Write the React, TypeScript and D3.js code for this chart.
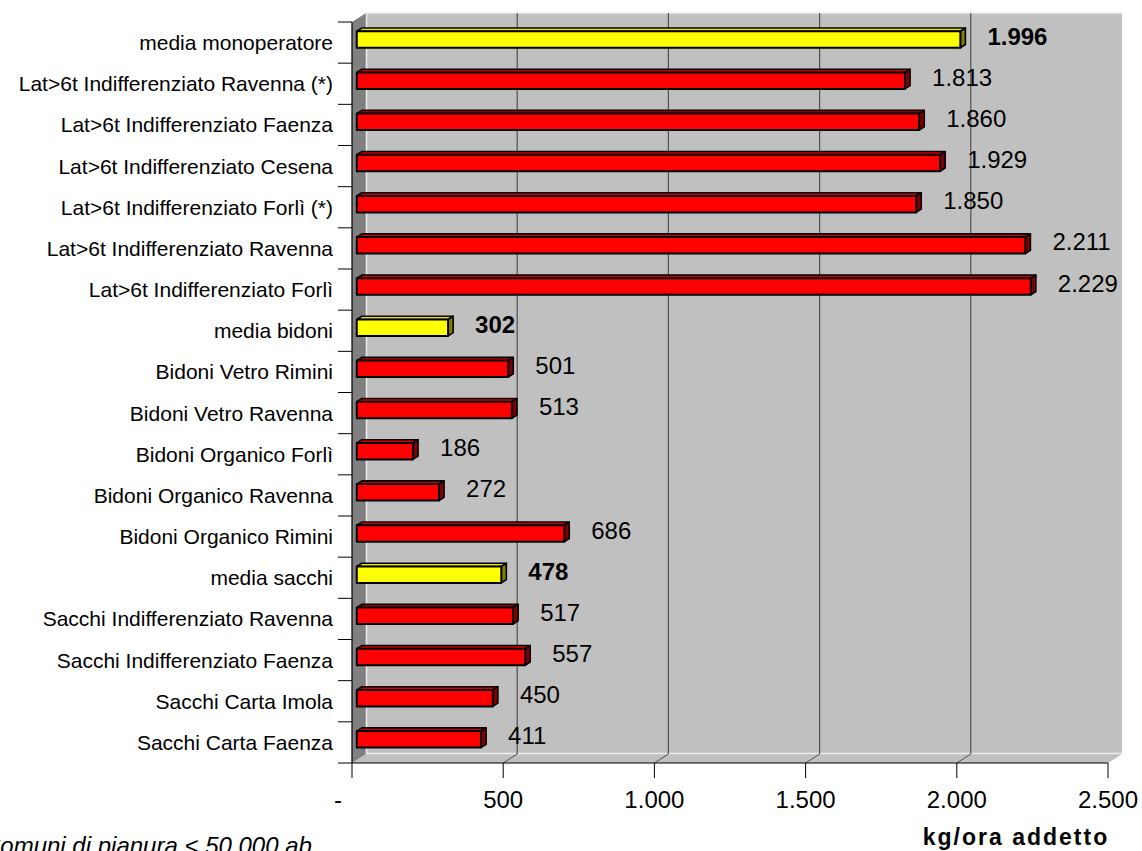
import React from "react";
import * as d3 from "d3";

const categories = [
  "media monoperatore",
  "Lat>6t Indifferenziato Ravenna (*)",
  "Lat>6t Indifferenziato Faenza",
  "Lat>6t Indifferenziato Cesena",
  "Lat>6t Indifferenziato Forlì (*)",
  "Lat>6t Indifferenziato Ravenna",
  "Lat>6t Indifferenziato Forlì",
  "media bidoni",
  "Bidoni Vetro Rimini",
  "Bidoni Vetro Ravenna",
  "Bidoni Organico Forlì",
  "Bidoni Organico Ravenna",
  "Bidoni Organico Rimini",
  "media sacchi",
  "Sacchi Indifferenziato Ravenna",
  "Sacchi Indifferenziato Faenza",
  "Sacchi Carta Imola",
  "Sacchi Carta Faenza",
];
const values = [1996, 1813, 1860, 1929, 1850, 2211, 2229, 302, 501, 513, 186, 272, 686, 478, 517, 557, 450, 411];
const isAverage = [true, false, false, false, false, false, false, true, false, false, false, false, false, true, false, false, false, false];
const xTicks = [0, 500, 1000, 1500, 2000, 2500];
const axisTitle = "kg/ora addetto";
const footnote = "Comuni di pianura < 50.000 ab.";

const W = 1142;
const H = 851;
const FRONT_LEFT = 352;
const FRONT_RIGHT = 1108;
const FRONT_TOP = 22;
const FRONT_BOTTOM = 763;
const DX = 14;
const DY = -9;
const FONT = "'Liberation Sans', Arial, Helvetica, sans-serif";

const itLocale = d3.formatLocale({ decimal: ",", thousands: ".", grouping: [3], currency: ["€", ""] });
const fmt = itLocale.format(",d");

export default function App() {
  const x = d3.scaleLinear().domain([0, 2500]).range([FRONT_LEFT, FRONT_RIGHT]);
  const y = d3.scaleBand().domain(categories).range([FRONT_TOP, FRONT_BOTTOM]).paddingInner(0).paddingOuter(0);
  const bw = y.bandwidth();

  // depth of bars (fraction of full depth)
  const d0 = 0.34;
  const d1 = 0.7;
  const barH = bw / 2.5;

  const p = (px: number, py: number, d: number) => [px + DX * d, py + DY * d];
  const pts = (arr: number[][]) => arr.map((a) => a.join(",")).join(" ");

  const backLeft = FRONT_LEFT + DX;
  const backRight = FRONT_RIGHT + DX;
  const backTop = FRONT_TOP + DY;
  const backBottom = FRONT_BOTTOM + DY;

  return (
    <svg
      width={W}
      height={H}
      style={{ position: "absolute", left: 0, top: 0, background: "#fff" }}
      fontFamily={FONT}
    >
      {/* back wall */}
      <rect x={backLeft} y={backTop} width={backRight - backLeft} height={backBottom - backTop} fill="#C0C0C0" />
      {/* floor */}
      <polygon
        points={pts([
          [FRONT_LEFT, FRONT_BOTTOM],
          [backLeft, backBottom],
          [backRight, backBottom],
          [FRONT_RIGHT, FRONT_BOTTOM],
        ])}
        fill="#C0C0C0"
      />
      {/* side wall */}
      <polygon
        points={pts([
          [FRONT_LEFT, FRONT_TOP],
          [backLeft, backTop],
          [backLeft, backBottom],
          [FRONT_LEFT, FRONT_BOTTOM],
        ])}
        fill="#808080"
      />
      {/* light wall edges */}
      <polyline
        points={pts([
          [backRight, backTop],
          [backLeft + 0.5, backTop],
          [backLeft + 0.5, backBottom - 0.5],
          [backRight, backBottom - 0.5],
        ])}
        fill="none"
        stroke="#EDEDED"
        strokeWidth={1.5}
      />
      {/* gridlines */}
      {xTicks.slice(1, -1).map((t) => (
        <g key={"g" + t}>
          <line x1={x(t) + DX} x2={x(t) + DX} y1={backTop} y2={backBottom} stroke="#505050" strokeWidth={1.2} />
          <line x1={x(t)} x2={x(t) + DX} y1={FRONT_BOTTOM} y2={backBottom} stroke="#505050" strokeWidth={1} />
        </g>
      ))}

      {/* bars */}
      {categories.map((c, i) => {
        const v = values[i];
        const yc = (y(c) as number) + bw / 2;
        const x0 = x(0);
        const x1 = x(v);
        const yt = yc - barH / 2;
        const yb = yc + barH / 2;
        const front = [p(x0, yt, d0), p(x1, yt, d0), p(x1, yb, d0), p(x0, yb, d0)];
        const top = [p(x0, yt, d0), p(x1, yt, d0), p(x1, yt, d1), p(x0, yt, d1)];
        const side = [p(x1, yt, d0), p(x1, yt, d1), p(x1, yb, d1), p(x1, yb, d0)];
        const avg = isAverage[i];
        const cFront = avg ? "#FFFF00" : "#FF0000";
        const cTop = avg ? "#E8E800" : "#D00000";
        const cSide = avg ? "#808000" : "#800000";
        const labelX = p(x1, yt, d1)[0] + 22;
        return (
          <g key={c}>
            <polygon points={pts(top)} fill={cTop} stroke="#000" strokeWidth={1.6} strokeLinejoin="round" />
            <polygon points={pts(side)} fill={cSide} stroke="#000" strokeWidth={1.6} strokeLinejoin="round" />
            <polygon points={pts(front)} fill={cFront} stroke="#000" strokeWidth={2} strokeLinejoin="round" />
            <text
              x={labelX}
              y={yc + 2}
              fontSize={24}
              fontWeight={avg ? "bold" : "normal"}
              fill="#000"
            >
              {fmt(v)}
            </text>
          </g>
        );
      })}

      {/* category axis */}
      <line x1={FRONT_LEFT} x2={FRONT_LEFT} y1={FRONT_TOP} y2={FRONT_BOTTOM} stroke="#000" strokeWidth={1.2} />
      {d3.range(categories.length + 1).map((i) => {
        const yy = FRONT_TOP + bw * i;
        return <line key={"ct" + i} x1={FRONT_LEFT - 14} x2={FRONT_LEFT} y1={yy} y2={yy} stroke="#000" strokeWidth={1} />;
      })}
      {categories.map((c) => (
        <text
          key={"cl" + c}
          x={333}
          y={(y(c) as number) + bw / 2 + 7.5}
          fontSize={21}
          textAnchor="end"
          fill="#000"
        >
          {c}
        </text>
      ))}

      {/* value axis */}
      <line x1={FRONT_LEFT} x2={FRONT_RIGHT} y1={FRONT_BOTTOM} y2={FRONT_BOTTOM} stroke="#000" strokeWidth={1.2} />
      {xTicks.map((t) => (
        <g key={"t" + t}>
          <line x1={x(t)} x2={x(t)} y1={FRONT_BOTTOM} y2={FRONT_BOTTOM + 15} stroke="#000" strokeWidth={1} />
          <text x={t === 0 ? x(t) - 14 : x(t)} y={808} fontSize={24} textAnchor="middle" fill="#000">
            {t === 0 ? "-" : fmt(t)}
          </text>
        </g>
      ))}
      <text x={1016} y={845} fontSize={23} fontWeight="bold" textAnchor="middle" letterSpacing={2} fill="#000">
        {axisTitle}
      </text>
      <text x={-17} y={854} fontSize={24} fontStyle="italic" fill="#000">
        {footnote}
      </text>
    </svg>
  );
}
